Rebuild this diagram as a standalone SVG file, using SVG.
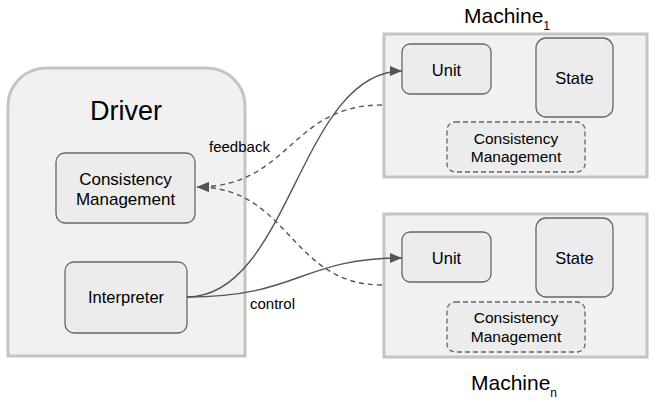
<svg xmlns="http://www.w3.org/2000/svg" width="656" height="402" viewBox="0 0 656 402">
<style>
.container{fill:#f1f1f1;stroke:#c4c4c4;stroke-width:3}
.box{fill:#ececec;stroke:#666;stroke-width:1.3}
.dbox{fill:#ececec;stroke:#666;stroke-width:1.3;stroke-dasharray:5 3}
text{font-family:"Liberation Sans",Arial,sans-serif;fill:#000}
.t{font-size:16.5px;text-anchor:middle}
.tm{font-size:15.5px;text-anchor:middle}
.title{font-size:27px;text-anchor:middle}
.mt{font-size:21px;text-anchor:middle}
.lbl{font-size:15px}
.edge{fill:none;stroke:#555;stroke-width:1.4}
.dash{stroke-dasharray:5 4}
</style>
<defs>
<marker id="arr" viewBox="0 0 12 10" refX="12" refY="5" markerWidth="12" markerHeight="10" markerUnits="userSpaceOnUse" orient="auto">
<path d="M0,0 L12,5 L0,10 Z" fill="#555"/>
</marker>
</defs>
<rect width="656" height="402" fill="#fff"/>
<g id="driver">
<path class="container" d="M8 356 V106 A38 38 0 0 1 46 68 H207 A38 38 0 0 1 245 106 V356 Z"/>
<text class="title" x="126" y="120">Driver</text>
</g>
<g id="driver-consistency">
<rect class="box" x="56" y="153" width="139" height="70" rx="9"/>
<text class="t" style="font-size:17px" x="125.5" y="185">Consistency</text>
<text class="t" style="font-size:17px" x="125.5" y="205">Management</text>
</g>
<g id="interpreter">
<rect class="box" x="65" y="262" width="122" height="71" rx="9"/>
<text class="t" x="126" y="303">Interpreter</text>
</g>
<g id="machine1">
<rect class="container" x="384" y="34" width="263" height="143"/>
<text class="mt" x="507" y="23">Machine<tspan font-size="12" dy="7">1</tspan></text>
</g>
<g id="unit1">
<rect class="box" x="402" y="44" width="89" height="50" rx="8"/>
<text class="t" x="446.5" y="76">Unit</text>
</g>
<g id="state1">
<rect class="box" x="536" y="38" width="77" height="79" rx="10"/>
<text class="t" x="574.5" y="84">State</text>
</g>
<g id="cm1">
<rect class="dbox" x="447" y="122" width="138" height="50" rx="8"/>
<text class="tm" x="516" y="144">Consistency</text>
<text class="tm" x="516" y="162">Management</text>
</g>
<g id="machinen">
<rect class="container" x="384" y="214" width="263" height="143"/>
<text class="mt" x="514" y="390">Machine<tspan font-size="12" dy="7">n</tspan></text>
</g>
<g id="unitn">
<rect class="box" x="402" y="232" width="89" height="50" rx="8"/>
<text class="t" x="446.5" y="264">Unit</text>
</g>
<g id="staten">
<rect class="box" x="536" y="218" width="77" height="79" rx="10"/>
<text class="t" x="574.5" y="264">State</text>
</g>
<g id="cmn">
<rect class="dbox" x="447" y="302" width="138" height="50" rx="8"/>
<text class="tm" x="516" y="323">Consistency</text>
<text class="tm" x="516" y="342">Management</text>
</g>
<g id="connectors">
<path class="edge" d="M187 297 C290 297 300 71 402 71" marker-end="url(#arr)"/>
<path class="edge" d="M187 297 C300 297 300 258 402 258" marker-end="url(#arr)"/>
<path class="edge dash" d="M382 105 C290 105 290 187 197 187" marker-end="url(#arr)"/>
<path class="edge dash" d="M382 285 C290 285 290 187 197 187" marker-end="url(#arr)"/>
<text class="lbl" x="209" y="152">feedback</text>
<text class="lbl" x="250" y="309">control</text>
</g>
</svg>
